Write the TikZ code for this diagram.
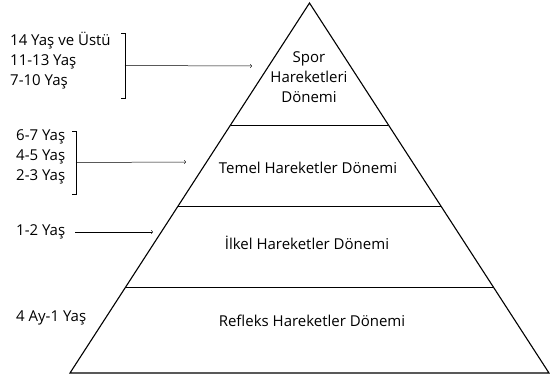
\documentclass[tikz,border=0pt]{standalone}
\usepackage{fontspec}
\setmainfont{Open Sans}
\usetikzlibrary{calc}
\newcommand{\agebracket}[4]{ \draw[thin] ( #1 - 4 , #2 ) -- ( #1 , #2 ) -- ( #1 , #3 ) -- ( #1 - 4 , #3 ); \coordinate (#4) at ( #1 , #2 * 0.5 + #3 * 0.5 );}
\newcommand{\agelabel}[4]{\node[agetext] (#1) at ( #2 , #3 ) {#4};}
\newcommand{\levelline}[3]{ \draw[levelrule] ($(apex)!#1!(bl)$) coordinate (#2) -- ($(apex)!#1!(br)$) coordinate (#3);}
\tikzset{
  agetext/.style={anchor=west, inner sep=0pt, align=left, font=\fontsize{15}{20}\selectfont},
  leveltext/.style={inner sep=0pt, align=center, font=\fontsize{15}{20}\selectfont},
  levelrule/.style={line width=0.6pt},
  pointer/.style={->, >=to, line width=0.5pt}
}
\begin{document}
\begin{tikzpicture}[x=1pt, y=-1pt]
        \useasboundingbox (0,0) rectangle (550,378);

        % pyramid
        \coordinate (apex) at (309.5,3);
        \coordinate (bl) at (70,373);
        \coordinate (br) at (549,373);
        \draw[line width=1.1pt, line join=miter] (bl) -- (apex) -- (br) -- cycle;

        \levelline{0.3297}{l1a}{l1b}
        \levelline{0.5486}{l2a}{l2b}
        \levelline{0.7676}{l3a}{l3b}

        \node[leveltext] (spor) at (309,77) {Spor\\Hareketleri\\Dönemi};
        \node[leveltext] (temel) at (308,168) {Temel Hareketler Dönemi};
        \node[leveltext] (ilkel) at (307,243) {İlkel Hareketler Dönemi};
        \node[leveltext] (refleks) at (312,321) {Refleks Hareketler Dönemi};

        % ages
        \agelabel{a14}{10}{61}{14 Yaş ve Üstü\\11-13 Yaş\\7-10 Yaş}
        \agelabel{a6}{16}{157}{6-7 Yaş\\4-5 Yaş\\2-3 Yaş}
        \agelabel{a1}{16}{232}{1-2 Yaş}
        \agelabel{a4}{16}{318}{4 Ay-1 Yaş}

        \agebracket{125}{33}{98}{b14}
        \agebracket{76}{131}{194}{b6}

        \coordinate (s1) at (75,232);
        \coordinate (t14) at (252,66);
        \coordinate (t6) at (186,162);
        \coordinate (t1) at (153,232);

        \draw[pointer] (b14) -- (t14);
        \draw[pointer] (b6) -- (t6);
        \draw[pointer] (s1) -- (t1);
\end{tikzpicture}
\end{document}
